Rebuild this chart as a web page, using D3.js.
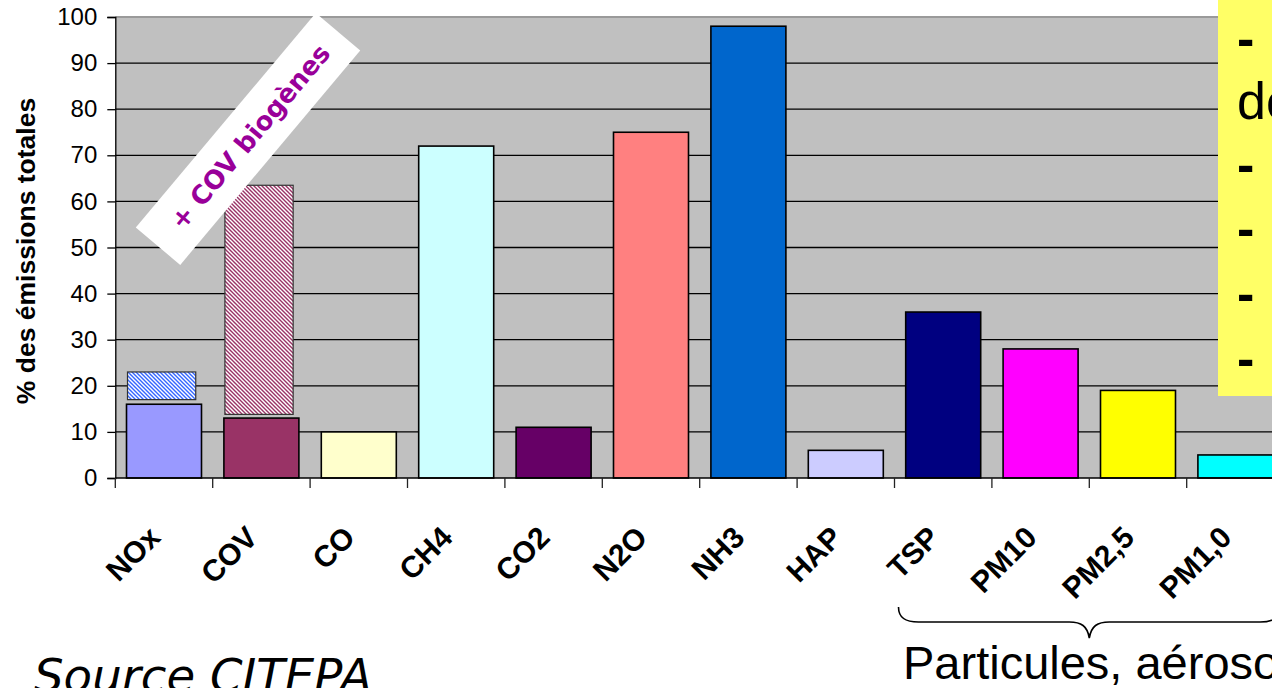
<!DOCTYPE html>
<html>
<head>
<meta charset="utf-8">
<script src="https://cdn.jsdelivr.net/npm/d3@7"></script>
<style>
  html, body { margin: 0; padding: 0; background: #fff; overflow: hidden; }
  svg { display: block; }
</style>
</head>
<body>
<svg id="chart" width="1272" height="688"></svg>
<script>
// Share of total emissions by pollutant (%)
const categories = ["NOx", "COV", "CO", "CH4", "CO2", "N2O", "NH3", "HAP", "TSP", "PM10", "PM2,5", "PM1,0"];
const shares     = [16, 13, 10, 72, 11, 75, 98, 6, 36, 28, 19, 5];
const colors     = ["#9999FF", "#993366", "#FFFFCC", "#CCFFFF", "#660066", "#FF8080",
                    "#0066CC", "#CCCCFF", "#000080", "#FF00FF", "#FFFF00", "#00FFFF"];

// Additional biogenic emissions, drawn as hatched bars above the base bars
const biogenicCats  = ["NOx", "COV"];
const biogenicFrom  = [17, 13.8];
const biogenicTo    = [23, 63.5];
const biogenicInk   = ["#3366FF", "#993366"];

const yTicks = [0, 10, 20, 30, 40, 50, 60, 70, 80, 90, 100];
const particleCats = ["TSP", "PM10", "PM2,5", "PM1,0"];

const svg = d3.select("#chart");
const plot = { left: 115.3, top: 17, bottom: 478, right: 1284.1 };

const y = d3.scaleLinear().domain([0, 100]).range([plot.bottom, plot.top]);
const x = d3.scaleBand().domain(categories).range([plot.left, plot.right])
  .paddingInner(0.23).paddingOuter(0.115);
const cell = d3.scaleBand().domain(categories).range([plot.left, plot.right]).padding(0);

// hatch patterns
const defs = svg.append("defs");
biogenicCats.forEach((c, i) => {
  const p = defs.append("pattern").attr("id", "hatch" + i)
    .attr("patternUnits", "userSpaceOnUse").attr("width", 4).attr("height", 4);
  p.append("rect").attr("width", 4).attr("height", 4).attr("fill", "#fff");
  p.append("path").attr("d", "M-1,-1L5,5M3,-1L5,1M-1,3L1,5")
    .attr("stroke", biogenicInk[i]).attr("stroke-width", 1.4);
});

// plot background
svg.append("rect")
  .attr("x", plot.left).attr("y", plot.top)
  .attr("width", plot.right - plot.left).attr("height", plot.bottom - plot.top)
  .attr("fill", "#C0C0C0");
svg.append("line")
  .attr("x1", plot.left).attr("x2", plot.right)
  .attr("y1", plot.top).attr("y2", plot.top)
  .attr("stroke", "#9a9a9a").attr("stroke-width", 2);

// gridlines
svg.append("g").selectAll("line").data(yTicks.filter(d => d > 0 && d < 100)).join("line")
  .attr("x1", plot.left).attr("x2", plot.right)
  .attr("y1", d => y(d)).attr("y2", d => y(d))
  .attr("stroke", "#000").attr("stroke-width", 1.3);

// y axis
const yAxis = svg.append("g")
  .attr("transform", `translate(${plot.left},0)`)
  .call(d3.axisLeft(y).tickValues(yTicks).tickSize(8).tickPadding(10));
yAxis.select(".domain").attr("stroke", "#000").attr("stroke-width", 1.3);
yAxis.selectAll(".tick line").attr("stroke", "#000").attr("stroke-width", 1.3);
yAxis.selectAll(".tick text")
  .attr("font-family", "Arial, 'Liberation Sans', sans-serif")
  .attr("font-size", 24).attr("fill", "#000");

// base bars
svg.append("g").selectAll("rect").data(categories).join("rect")
  .attr("x", d => x(d))
  .attr("y", (d, i) => y(shares[i]))
  .attr("width", x.bandwidth())
  .attr("height", (d, i) => y(0) - y(shares[i]))
  .attr("fill", (d, i) => colors[i])
  .attr("stroke", "#000").attr("stroke-width", 1.6);

// biogenic hatched bars
svg.append("g").selectAll("rect").data(biogenicCats).join("rect")
  .attr("x", d => x(d) + 1)
  .attr("y", (d, i) => y(biogenicTo[i]))
  .attr("width", x.bandwidth() * 0.91)
  .attr("height", (d, i) => y(biogenicFrom[i]) - y(biogenicTo[i]))
  .attr("fill", (d, i) => `url(#hatch${i})`)
  .attr("stroke", "#333").attr("stroke-width", 1.2);

// x axis line and category boundary ticks
svg.append("line")
  .attr("x1", plot.left).attr("x2", plot.right)
  .attr("y1", y(0)).attr("y2", y(0))
  .attr("stroke", "#000").attr("stroke-width", 1.5);
svg.append("g").selectAll("line").data(categories).join("line")
  .attr("x1", d => cell(d)).attr("x2", d => cell(d))
  .attr("y1", y(0)).attr("y2", y(0) + 10)
  .attr("stroke", "#222").attr("stroke-width", 1.3);

// rotated category labels: baseline end sits just left of the band centre
const labelSize = 30;
const capDrop = 0.72 * labelSize * Math.SQRT1_2;
svg.append("g").selectAll("text").data(categories).join("text")
  .attr("transform", d => `translate(${x(d) + x.bandwidth() / 2 - 2 - capDrop},524) rotate(-45)`)
  .attr("text-anchor", "end")
  .attr("dy", "0.72em")
  .attr("font-family", "Arial, 'Liberation Sans', sans-serif")
  .attr("font-weight", "bold")
  .attr("font-size", labelSize)
  .attr("fill", "#000")
  .text(d => d);

// y axis title
svg.append("text")
  .attr("transform", "translate(35,251) rotate(-90)")
  .attr("text-anchor", "middle")
  .attr("font-family", "Arial, 'Liberation Sans', sans-serif")
  .attr("font-weight", "bold")
  .attr("font-size", 26.5)
  .text("% des émissions totales");

// "+ COV biogènes" tag
const tag = svg.append("g").attr("transform", "translate(248,139) rotate(-50)");
tag.append("rect").attr("x", -140).attr("y", -29).attr("width", 280).attr("height", 58).attr("fill", "#fff");
tag.append("text")
  .attr("text-anchor", "middle").attr("dy", "0.36em").attr("x", 3)
  .attr("font-family", "'Comic Sans MS', 'DejaVu Sans', sans-serif")
  .attr("font-weight", "bold").attr("font-size", 26)
  .attr("fill", "#990099")
  .attr("textLength", 232).attr("lengthAdjust", "spacingAndGlyphs")
  .text("+ COV biogènes");

// brace under the particle categories
const bx0 = cell(particleCats[0]) + 4;
const bx1 = cell(particleCats[particleCats.length - 1]) + cell.bandwidth() - 4;
const bm = (bx0 + bx1) / 2;
const by0 = 607, by1 = 622, by2 = 638;
svg.append("path")
  .attr("d", `M${bx0},${by0} C${bx0},${by1 - 4} ${bx0 + 7},${by1} ${bx0 + 20},${by1}
              L${bm - 20},${by1} C${bm - 8},${by1} ${bm - 2},${by1 + 4} ${bm},${by2}
              C${bm + 2},${by1 + 4} ${bm + 8},${by1} ${bm + 20},${by1}
              L${bx1 - 20},${by1} C${bx1 - 7},${by1} ${bx1},${by1 - 4} ${bx1},${by0}`)
  .attr("fill", "none").attr("stroke", "#000").attr("stroke-width", 1.6);

svg.append("text")
  .attr("x", 903).attr("y", 679)
  .attr("font-family", "Arial, 'Liberation Sans', sans-serif")
  .attr("font-size", 47)
  .text("Particules, aérosols");

// source note
svg.append("text")
  .attr("x", 34).attr("y", 692)
  .attr("font-family", "'Comic Sans MS', 'DejaVu Sans', sans-serif")
  .attr("font-style", "italic")
  .attr("font-size", 46)
  .attr("textLength", 338).attr("lengthAdjust", "spacingAndGlyphs")
  .text("Source CITEPA");

// yellow note box on the right
const note = svg.append("g");
note.append("rect").attr("x", 1218).attr("y", -2).attr("width", 70).attr("height", 398).attr("fill", "#FFFF66");
const noteLines = [
  { text: "-", y: 56, bold: true },
  { text: "de", y: 119, bold: false },
  { text: "-", y: 182, bold: true },
  { text: "-", y: 246, bold: true },
  { text: "-", y: 311, bold: true },
  { text: "-", y: 376, bold: true }
];
note.selectAll("text").data(noteLines).join("text")
  .attr("x", 1237).attr("y", d => d.y)
  .attr("font-family", "Arial, 'Liberation Sans', sans-serif")
  .attr("font-size", 52)
  .attr("font-weight", d => d.bold ? "bold" : "normal")
  .text(d => d.text);
</script>
</body>
</html>
